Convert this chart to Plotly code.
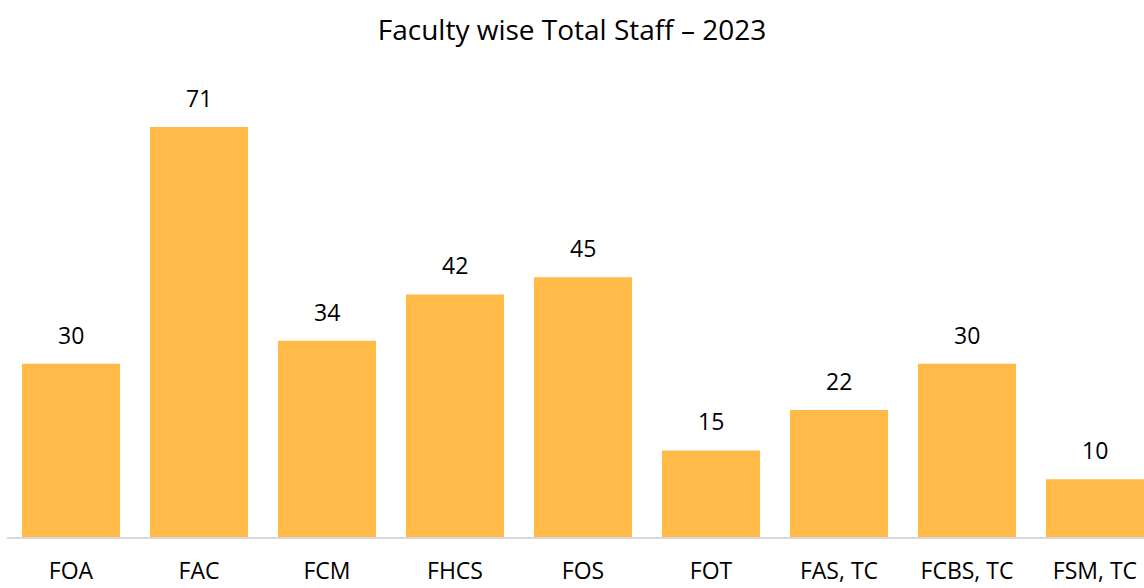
import plotly.graph_objects as go

categories = ["FOA", "FAC", "FCM", "FHCS", "FOS", "FOT", "FAS, TC", "FCBS, TC", "FSM, TC"]
values = [30, 71, 34, 42, 45, 15, 22, 30, 10]

bar_color = "#FFBA47"
font_family = "Open Sans, sans-serif"

fig = go.Figure()
fig.add_trace(go.Bar(x=categories, y=values, marker=dict(color=bar_color, line=dict(width=0)),
                     hoverinfo="x+y"))

for c, v in zip(categories, values):
    fig.add_annotation(x=c, y=v, text=str(v), showarrow=False, yanchor="bottom", yshift=11,
                       font=dict(size=23, color="#000000", family=font_family))

fig.update_layout(
    width=1144, height=588,
    margin=dict(l=7, r=0, t=60, b=51, autoexpand=False),
    paper_bgcolor="white", plot_bgcolor="white",
    bargap=0.234,
    showlegend=False,
    title=dict(text="Faculty wise Total Staff \u2013 2023", x=0.5, xanchor="center", y=0.949, yanchor="middle",
               font=dict(size=28, color="#000000", family=font_family)),
)
fig.update_xaxes(range=[-0.5, 8.383], showline=True, linecolor="#D9D9D9", linewidth=2,
                 ticks="", ticklabelstandoff=12, showgrid=False, automargin=False,
                 tickfont=dict(size=23, color="#000000", family=font_family))
fig.update_yaxes(range=[0, 82.6], visible=False, showgrid=False, zeroline=False, automargin=False)

fig.write_html("out.html", config={"displayModeBar": False},
               post_script="document.body.style.margin='0';document.body.style.overflow='hidden';")
